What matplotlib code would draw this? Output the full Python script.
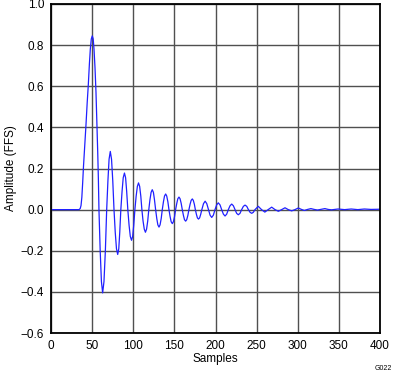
import matplotlib
matplotlib.use("Agg")
import matplotlib.pyplot as plt

# Sample positions and amplitudes
samples = [
    0, 34, 35.5, 36.5, 37.5, 38.5, 39.5, 41, 42.5, 44, 45.4, 46.7, 47.8, 49, 50.2,
    51.3, 52.3, 53.5, 54.7, 55.8, 56.8, 57.6, 58.3,
    59.8, 61.3, 62.8, 64.4, 66.1, 67.7,
    69.2, 70.6, 72.1, 73.6, 75.1, 76.6,
    78.1, 79.6, 81.1, 82.4, 83.6, 84.9,
    86.4, 87.8, 89.3, 90.7, 92.0, 93.4,
    94.9, 96.4, 97.9, 99.3, 100.6, 102.0,
    103.5, 105.0, 106.4, 107.8, 109.2, 110.5,
    111.9, 113.4, 114.8, 116.2, 117.6, 118.9,
    120.3, 121.7, 123.1, 124.5, 125.8, 127.2,
    128.6, 129.9, 131.3, 132.6, 134.0, 135.3,
    136.7, 138.0, 139.4, 140.7, 142.1, 143.4,
    144.8, 146.1, 147.5, 148.8, 150.2, 151.5,
    152.9, 154.2, 155.6, 156.9, 158.3, 159.6,
    161.0, 162.3, 163.7, 165.0, 166.4, 167.7,
    169.1, 170.4, 171.8, 173.0, 174.3, 175.5,
    176.8, 178.0, 179.3, 180.7, 182.0, 183.4,
    185.4, 187.4, 189.4, 191.4,
    193.4, 195.4, 197.4, 199.4,
    201.4, 203.4, 205.5, 207.5,
    209.6, 211.6, 213.6, 215.6,
    217.7, 219.7, 221.7, 223.7,
    225.7, 227.7, 229.8, 231.8,
    233.9, 235.9, 238.0, 240.0,
    242.0, 244.0, 246.0, 248.0,
    252.0, 256.0, 260.0, 264.0, 268.3, 272.4, 276.4, 280.4,
    284.5, 288.5, 292.6, 296.6, 300.7, 304.5, 308.0, 312.0,
    316.0, 320.0, 324.0, 328.0, 333.0, 337.0, 341.0, 349.0,
    357.0, 365.0, 373.0, 381.0, 389.0, 397.0, 400.0,
]
amplitude = [
    0.0, 0.0, 0.005, 0.02, 0.06, 0.13, 0.21, 0.31, 0.41, 0.52, 0.61, 0.71, 0.78, 0.83, 0.845,
    0.83, 0.78, 0.69, 0.57, 0.42, 0.28, 0.15, 0.0,
    -0.2, -0.35, -0.405, -0.35, -0.2, 0.0,
    0.14, 0.245, 0.283, 0.245, 0.14, 0.0,
    -0.11, -0.19, -0.218, -0.19, -0.11, 0.0,
    0.089, 0.155, 0.178, 0.155, 0.089, 0.0,
    -0.075, -0.13, -0.149, -0.13, -0.075, 0.0,
    0.065, 0.113, 0.13, 0.113, 0.065, 0.0,
    -0.055, -0.095, -0.11, -0.095, -0.055, 0.0,
    0.048, 0.084, 0.097, 0.084, 0.048, 0.0,
    -0.043, -0.074, -0.085, -0.074, -0.043, 0.0,
    0.038, 0.066, 0.076, 0.066, 0.038, 0.0,
    -0.034, -0.059, -0.068, -0.059, -0.034, 0.0,
    0.03, 0.053, 0.061, 0.053, 0.03, 0.0,
    -0.028, -0.049, -0.056, -0.049, -0.028, 0.0,
    0.026, 0.045, 0.052, 0.045, 0.026, 0.0,
    -0.023, -0.04, -0.046, -0.04, -0.023, 0.0,
    0.029, 0.041, 0.029, 0.0,
    -0.027, -0.038, -0.027, 0.0,
    0.023, 0.033, 0.023, 0.0,
    -0.022, -0.031, -0.022, 0.0,
    0.019, 0.027, 0.019, 0.0,
    -0.018, -0.025, -0.018, 0.0,
    0.016, 0.022, 0.016, 0.0,
    -0.013, -0.018, -0.013, 0.0,
    0.016, 0.0, -0.012, 0.0, 0.012, 0.0, -0.008, 0.0,
    0.009, 0.0, -0.006, 0.0, 0.008, 0.001, -0.004, 0.001,
    0.005, 0.001, -0.002, 0.001, 0.005, 0.001, -0.001, 0.003,
    0.0, 0.003, 0.0, 0.003, 0.001, 0.002, 0.002,
]

x_ticks = [0, 50, 100, 150, 200, 250, 300, 350, 400]
y_ticks = [-0.6, -0.4, -0.2, 0.0, 0.2, 0.4, 0.6, 0.8, 1.0]
x_label = "Samples"
y_label = "Amplitude (FFS)"
figure_id = "G022"

plt.rcParams['font.family'] = ['Liberation Sans', 'DejaVu Sans']

fig = plt.figure(figsize=(3.96, 3.77), dpi=100)
ax = fig.add_axes([51/396, 1 - 333/377, (380 - 51)/396, (333 - 4)/377])

ax.plot(samples, amplitude, color='#2020ff', linewidth=0.9, zorder=3)

ax.set_xlim(0, 400)
ax.set_ylim(-0.6, 1.0)
ax.set_xticks(x_ticks)
ax.set_yticks(y_ticks)
ax.set_xticklabels([str(t) for t in x_ticks])
ax.set_yticklabels([f"{t:.1f}".replace("-", "\u2212") for t in y_ticks])
ax.tick_params(length=0, labelsize=8.5, pad=5, colors='black')
ax.grid(True, color='#505050', linewidth=1.0, zorder=1)
for s in ax.spines.values():
    s.set_color('black')
    s.set_linewidth(1.3)
    s.set_zorder(4)

ax.set_xlabel(x_label, fontsize=8.5, labelpad=1)
ax.set_ylabel(y_label, fontsize=8.5, labelpad=3)
fig.text(392/396, 1 - 368/377, figure_id, fontsize=5, ha='right', va='center')

fig.savefig("out.png", dpi=100)
